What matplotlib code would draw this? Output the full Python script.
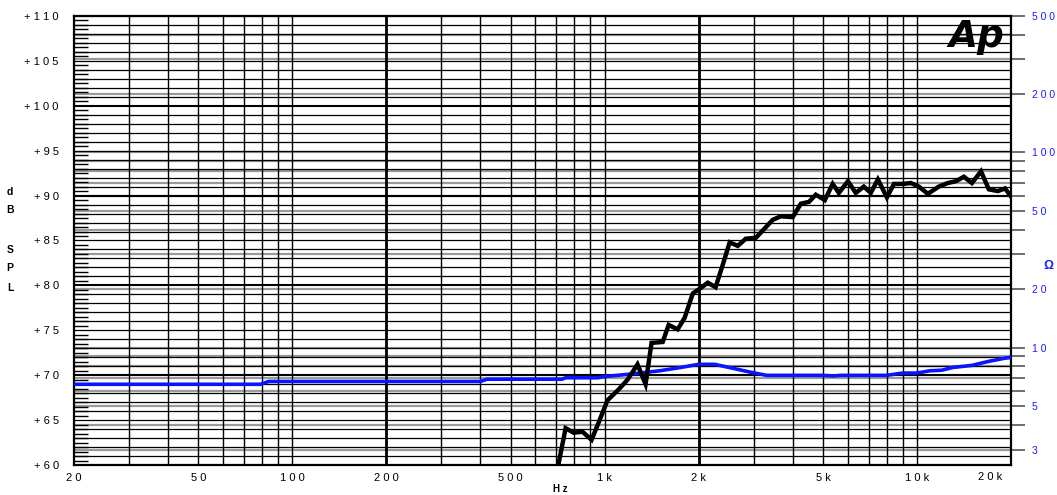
import matplotlib
matplotlib.use("Agg")
import matplotlib.pyplot as plt
import numpy as np

plt.rcParams['font.family'] = ['Liberation Sans', 'DejaVu Sans']

# SPL response (dB)
spl_freq = [706, 750, 795, 850, 908, 956, 1021, 1108, 1184, 1274, 1352, 1413, 1534,
            1603, 1713, 1804, 1915, 2030, 2138, 2266, 2389, 2514, 2667, 2831, 3049,
            3453, 3665, 4000, 4249, 4509, 4743, 5070, 5372, 5622, 6010, 6368, 6758,
            7114, 7496, 8011, 8437, 9016, 9556, 10140, 10834, 11744, 12554, 13325,
            14130, 14994, 16032, 16982, 18150, 19140, 20000]
spl_db = [59.5, 64.1, 63.6, 63.7, 62.8, 64.7, 67.2, 68.4, 69.5, 71.2, 69.0, 73.6, 73.7,
          75.6, 75.1, 76.4, 79.1, 79.7, 80.3, 79.8, 82.3, 84.8, 84.4, 85.2, 85.3,
          87.3, 87.7, 87.6, 89.1, 89.3, 90.1, 89.5, 91.3, 90.3, 91.6, 90.3, 91.0,
          90.3, 91.8, 89.8, 91.3, 91.3, 91.4, 91.0, 90.2, 91.0, 91.4, 91.6,
          92.1, 91.4, 92.7, 90.7, 90.5, 90.8, 89.9]

# Impedance (ohm)
imp_freq = [20, 79, 84, 400, 420, 730, 750, 950, 1000, 1200, 1500, 1750, 2000, 2250,
            2600, 2900, 3300, 5000, 5400, 5700, 8000, 9000, 10000, 11000, 12000,
            13000, 15000, 17000, 19000, 20000]
imp_ohm = [6.48, 6.48, 6.7, 6.7, 6.88, 6.88, 7.0, 7.0, 7.1, 7.3, 7.6, 7.9, 8.2, 8.2,
           7.8, 7.5, 7.2, 7.2, 7.15, 7.2, 7.2, 7.4, 7.4, 7.6, 7.65,
           7.9, 8.1, 8.5, 8.8, 8.9]

x_ticks = [20, 50, 100, 200, 500, 1000, 2000, 5000, 10000]
x_labels = ['2 0', '5 0', '1 0 0', '2 0 0', '5 0 0', '1 k', '2 k', '5 k', '1 0 k']
db_ticks = [60, 65, 70, 75, 80, 85, 90, 95, 100, 105, 110]
ohm_ticks = [3, 5, 10, 20, 50, 100, 200, 500]

fig = plt.figure(figsize=(10.57, 4.95), dpi=100)
ax2 = fig.add_axes([74/1057, 30/495, 937/1057, 449/495])
ax = ax2.twinx()
ax.set_zorder(ax2.get_zorder() + 1)
ax.patch.set_visible(False)

ax2.set_xscale('log')
ax2.set_xlim(20, 20000)
ax2.set_yscale('log')
ax2.set_ylim(2.5, 500)
ax.set_ylim(60, 110)

# gray impedance grid
ohm_grid = [m * 10**e for e in range(0, 3) for m in range(1, 10)]
ohm_grid = [v for v in ohm_grid if 2.5 < v <= 500]
for v in ohm_grid:
    ax2.axhline(v, color='#9a9a9a', lw=1.6, zorder=1)

# black dB grid
for d in range(61, 110):
    ax.axhline(d, color='black', lw=1.5 if d % 10 == 0 else 0.9, zorder=1)

# vertical frequency grid
f_grid = [m * 10**e for e in range(1, 5) for m in range(1, 10)]
f_grid = [f for f in f_grid if 20 < f < 20000]
for f in f_grid:
    ax.axvline(f, color='black', lw=2.0 if f in (200, 2000) else 1.0, zorder=1)

ax.plot(imp_freq, imp_ohm, color='#0a14ff', lw=2.6, transform=ax2.transData,
        zorder=3, solid_joinstyle='round')
ax.plot(spl_freq, spl_db, color='black', lw=3.2, zorder=4, solid_joinstyle='miter')

for spine in ax.spines.values():
    spine.set_linewidth(1.6)
for spine in ax2.spines.values():
    spine.set_visible(False)

# left dB axis
ax.yaxis.tick_left()
ax.set_yticks(db_ticks)
ax.set_yticklabels(['+ ' + ' '.join(str(v)) for v in db_ticks], fontsize=8)
ax.set_yticks(np.arange(60.5, 110, 0.5), minor=True)
ax.tick_params(axis='y', which='major', length=0, pad=11)
ax.tick_params(axis='y', which='minor', direction='in', length=10, width=1.0)

# right impedance axis
ax2.yaxis.tick_right()
ax2.set_yticks(ohm_ticks)
ax2.set_yticklabels([' '.join(str(v)) for v in ohm_ticks], fontsize=7.5, color='#1a1aff')
ax2.set_yticks(ohm_grid, minor=True)
ax2.yaxis.set_minor_formatter(plt.NullFormatter())
ax2.tick_params(axis='y', which='major', direction='out', length=10, width=1.2,
                color='#555555', pad=5)
ax2.tick_params(axis='y', which='minor', direction='out', length=10, width=1.2,
                color='#555555')

# x axis
ax2.set_xticks(x_ticks)
ax2.set_xticklabels(x_labels, fontsize=8)
ax2.xaxis.set_minor_formatter(plt.NullFormatter())
ax2.tick_params(axis='x', which='both', length=0, pad=6)
ax.tick_params(axis='x', which='both', length=0, labelbottom=False)
ax2.text(17200, 2.5 / 1.09, '2 0 k', fontsize=8, ha='center', va='top')

# labels
for letter, ypx in [('d', 192), ('B', 210), ('S', 250), ('P', 268), ('L', 288)]:
    fig.text(10/1057, 1 - ypx/495, letter, fontsize=7.5, fontweight='bold',
             ha='center', va='center')
fig.text(560/1057, 1 - 489/495, 'H z', fontsize=7, fontweight='bold',
         ha='center', va='center')
fig.text(1044/1057, 1 - 266/495, 'Ω', fontsize=9, fontweight='bold',
         color='#1a1aff', ha='left', va='center')

# Ap logo
ax.text(0.993, 0.953, 'Ap', transform=ax.transAxes, fontsize=27, fontweight='heavy',
        fontstyle='italic', family='DejaVu Sans', ha='right', va='center', zorder=5)

fig.savefig('out.png', dpi=100)
